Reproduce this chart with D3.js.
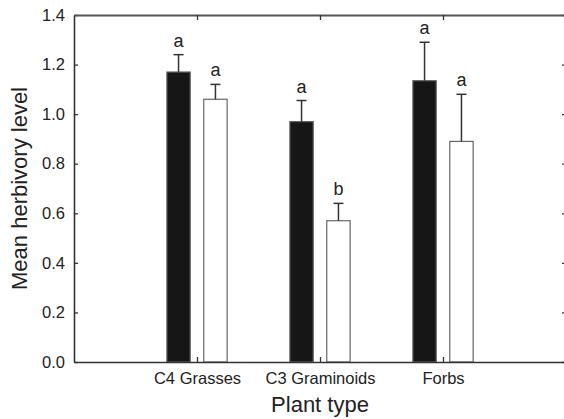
<!DOCTYPE html>
<html>
<head>
<meta charset="utf-8">
<script src="https://cdn.jsdelivr.net/npm/d3@7"></script>
<style>
  body { margin: 0; background: #fff; }
  svg text { font-family: "Liberation Sans", Arial, sans-serif; fill: #222; }
</style>
</head>
<body>
<div id="chart"></div>
<script>
// dữ liệu
const categories = ["C4 Grasses", "C3 Graminoids", "Forbs"];
const blackMeans = [1.17, 0.97, 1.135];
const blackErr = [0.07, 0.085, 0.155];
const whiteMeans = [1.06, 0.57, 0.89];
const whiteErr = [0.06, 0.07, 0.19];
const blackLetters = ["a", "a", "a"];
const whiteLetters = ["a", "b", "a"];
const yTicks = [0, 0.2, 0.4, 0.6, 0.8, 1.0, 1.2, 1.4];

const W = 564, H = 419;
const svg = d3.select("#chart").append("svg").attr("width", W).attr("height", H);

const x = d3.scaleLinear().domain([0, 4]).range([74, 566]);
const y = d3.scaleLinear().domain([0, 1.4]).range([362, 15]);

const barW = 0.19, offset = 0.15;

// gộp 2 nhóm lại để vẽ
const series = [
  { means: blackMeans, err: blackErr, letters: blackLetters, off: -offset, fill: "#161616" },
  { means: whiteMeans, err: whiteErr, letters: whiteLetters, off: offset, fill: "#ffffff" }
];

series.forEach(s => {
  const rows = s.means.map((m, i) => ({ pos: i + 1, mean: m, err: s.err[i], letter: s.letters[i] }));
  const g = svg.append("g");

  g.selectAll("rect").data(rows).enter().append("rect")
    .attr("x", d => x(d.pos + s.off - barW / 2))
    .attr("width", d => x(barW) - x(0))
    .attr("y", d => y(d.mean))
    .attr("height", d => y(0) - y(d.mean))
    .attr("fill", s.fill)
    .attr("stroke", "#666")
    .attr("stroke-width", 1.2);

  // thanh sai số (chỉ phía trên)
  g.selectAll("line.err").data(rows).enter().append("line")
    .attr("x1", d => x(d.pos + s.off)).attr("x2", d => x(d.pos + s.off))
    .attr("y1", d => y(d.mean)).attr("y2", d => y(d.mean + d.err))
    .attr("stroke", "#333").attr("stroke-width", 1.5);
  g.selectAll("line.cap").data(rows).enter().append("line")
    .attr("x1", d => x(d.pos + s.off) - 5).attr("x2", d => x(d.pos + s.off) + 5)
    .attr("y1", d => y(d.mean + d.err)).attr("y2", d => y(d.mean + d.err))
    .attr("stroke", "#333").attr("stroke-width", 1.5);

  g.selectAll("text").data(rows).enter().append("text")
    .attr("x", d => x(d.pos + s.off))
    .attr("y", d => y(d.mean + d.err) - 8)
    .attr("text-anchor", "middle")
    .style("font-size", "18px")
    .text(d => d.letter);
});

// trục
const styleAxis = g => {
  g.select(".domain").attr("stroke", "#333").attr("stroke-width", 1.6);
  g.selectAll(".tick line").attr("stroke", "#333").attr("stroke-width", 1.3);
  g.selectAll(".tick text").style("font-size", "16.5px").attr("fill", "#222");
};

svg.append("g").attr("transform", `translate(${x(0)},0)`)
  .call(d3.axisLeft(y).tickValues(yTicks).tickFormat(d3.format(".1f")).tickSize(-4).tickSizeOuter(0).tickPadding(9))
  .call(styleAxis);

svg.append("g").attr("transform", `translate(${x(4)},0)`)
  .call(d3.axisRight(y).tickValues(yTicks).tickFormat("").tickSize(-4).tickSizeOuter(0))
  .call(styleAxis);

svg.append("g").attr("transform", `translate(0,${y(0)})`)
  .call(d3.axisBottom(x).tickValues([1, 2, 3]).tickFormat(d => categories[d - 1]).tickSize(-5).tickSizeOuter(0).tickPadding(10))
  .call(styleAxis);

svg.append("g").attr("transform", `translate(0,${y(1.4)})`)
  .call(d3.axisTop(x).tickValues([1, 2, 3]).tickFormat("").tickSize(-5).tickSizeOuter(0))
  .call(styleAxis)
  .call(g => g.select(".domain").attr("stroke", "#555").attr("stroke-width", 2));

// nhãn trục
svg.append("text")
  .attr("x", (x(0) + x(4)) / 2).attr("y", 412)
  .attr("text-anchor", "middle")
  .style("font-size", "22px")
  .text("Plant type");

svg.append("text")
  .attr("transform", `translate(27,${(y(0) + y(1.4)) / 2}) rotate(-90)`)
  .attr("text-anchor", "middle")
  .style("font-size", "22px")
  .text("Mean herbivory level");
</script>
</body>
</html>
